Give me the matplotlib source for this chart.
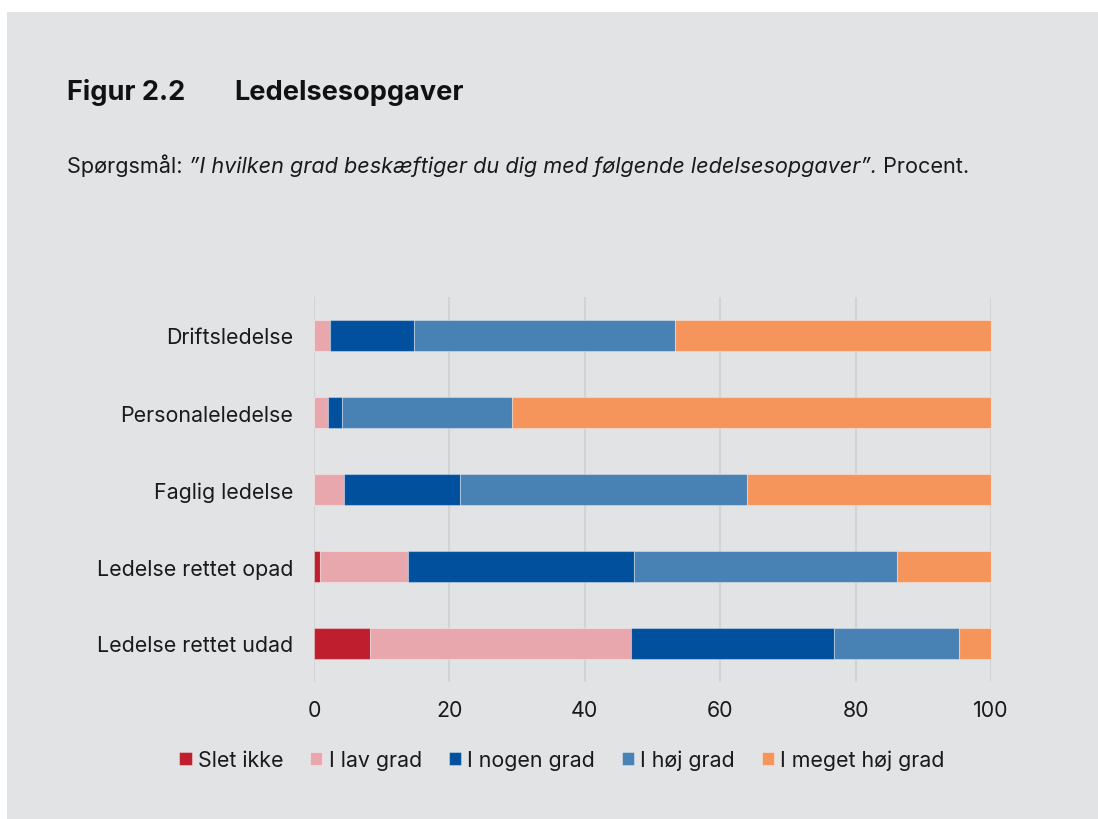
import numpy as np
import matplotlib
matplotlib.use('Agg')
import matplotlib.pyplot as plt
from matplotlib.patches import Rectangle

plt.rcParams['font.family'] = ['Inter', 'DejaVu Sans']

categories = ['Driftsledelse', 'Personaleledelse', 'Faglig ledelse',
              'Ledelse rettet opad', 'Ledelse rettet udad']
series_names = ['Slet ikke', 'I lav grad', 'I nogen grad', 'I høj grad', 'I meget høj grad']
slet_ikke = [0.0, 0.0, 0.0, 0.9, 8.3]
lav_grad = [2.4, 2.0, 4.5, 13.0, 38.5]
nogen_grad = [12.4, 2.1, 17.0, 33.4, 30.0]
hoej_grad = [38.5, 25.1, 42.5, 38.8, 18.5]
meget_hoej = [46.7, 70.8, 36.0, 13.9, 4.7]
colors = ['#be1e2d', '#e8a7ad', '#00509d', '#4881b3', '#f5955c']
xticks = [0, 20, 40, 60, 80, 100]

bg = '#e2e3e5'
W, H = 1098, 820
fig = plt.figure(figsize=(W / 100, H / 100), dpi=100)
fig.patch.set_facecolor('white')
fig.patches.append(Rectangle((7 / W, 0), 1 - 7 / W, 1 - 13 / H, transform=fig.transFigure,
                             facecolor=bg, edgecolor='none', zorder=-10))

ax = fig.add_axes([314 / W, 1 - 683 / H, (991 - 314) / W, (683 - 298) / H])
ax.set_facecolor(bg)

y = np.arange(len(categories))
left = np.zeros(len(categories))
for name, vals, c in zip(series_names, [slet_ikke, lav_grad, nogen_grad, hoej_grad, meget_hoej], colors):
    ax.barh(y, vals, left=left, height=0.4, color=c, edgecolor=(1, 1, 1, 0.35),
            linewidth=0.8, label=name, zorder=3)
    left += np.array(vals)

ax.set_xlim(0, 100)
ax.set_ylim(4.5, -0.5)
ax.set_yticks(y)
ax.set_yticklabels(categories, fontsize=15.4, color='#1a1a1a')
ax.set_xticks(xticks)
ax.set_xticklabels([str(t) for t in xticks], fontsize=15.4, color='#1a1a1a')
ax.tick_params(length=0, pad=13, axis='x')
ax.tick_params(length=0, pad=15, axis='y')
ax.xaxis.grid(True, color='#d2d3d5', linewidth=1.5, zorder=0)
for s in ax.spines.values():
    s.set_visible(False)

# titles
fig.text(67 / W, 1 - 100 / H, 'Figur 2.2', fontsize=19.5, fontweight='bold', va='baseline', color='#111111')
fig.text(234 / W, 1 - 100 / H, 'Ledelsesopgaver', fontsize=19.5, fontweight='bold', va='baseline', color='#111111')

fig.canvas.draw()
r = fig.canvas.get_renderer()
t1 = fig.text(67 / W, 1 - 173 / H, 'Spørgsmål: ', fontsize=15.6, va='baseline', color='#1a1a1a')
bb = t1.get_window_extent(r)
t2 = fig.text(bb.x1 / W, 1 - 173 / H, '”I hvilken grad beskæftiger du dig med følgende ledelsesopgaver”.',
              fontsize=15.6, style='italic', va='baseline', color='#1a1a1a')
bb = t2.get_window_extent(r)
fig.text(bb.x1 / W, 1 - 173 / H, ' Procent.', fontsize=15.6, va='baseline', color='#1a1a1a')

fig.legend(loc='center', bbox_to_anchor=(562 / W, 1 - 761 / H), ncol=5, frameon=False,
           fontsize=15.4, handlelength=0.57, handleheight=0.57, handletextpad=0.3,
           columnspacing=1.25, labelcolor='#1a1a1a')

fig.savefig('out.png', dpi=100, facecolor=fig.get_facecolor())
